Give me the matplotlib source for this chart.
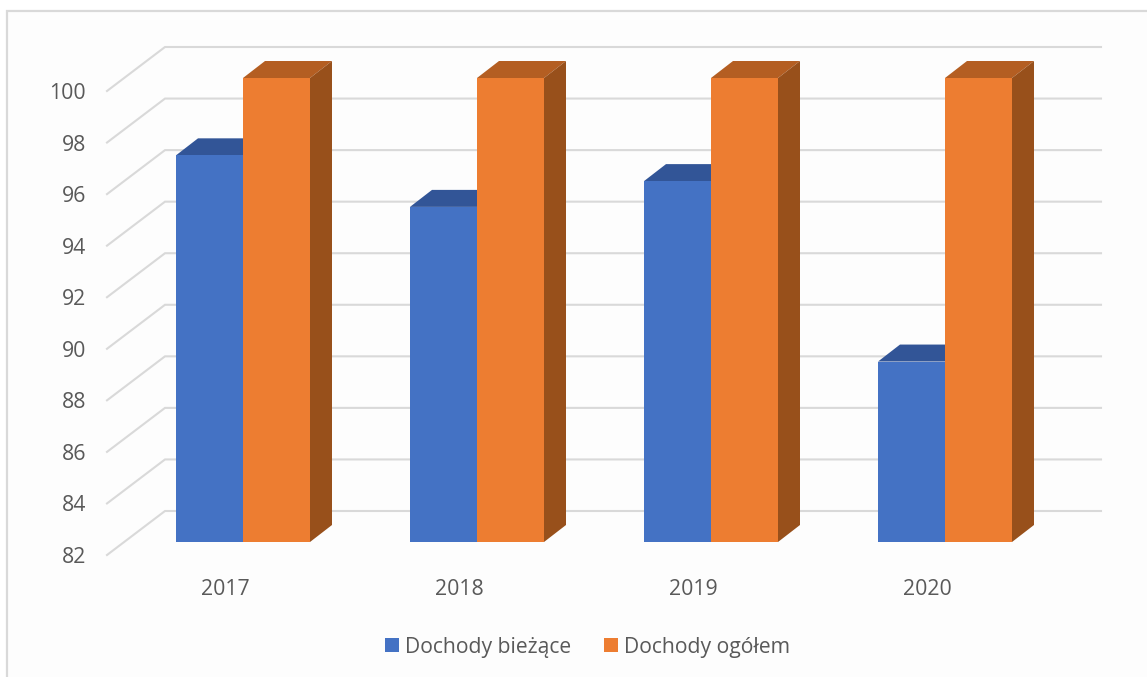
#!/usr/bin/env python3
"""Pseudo-3D column chart of Dochody biezace vs ogolem."""

import matplotlib
matplotlib.use("Agg")
import matplotlib.pyplot as plt
from matplotlib.patches import Patch, Polygon, Rectangle

YEARS = ["2017", "2018", "2019", "2020"]
TICKS = [82, 84, 86, 88, 90, 92, 94, 96, 98, 100]
CURRENT = [97, 95, 96, 89]
TOTAL = [100, 100, 100, 100]

W, H = 1147, 677
BAR_W = 67 / 234
GRID = "#d9d9d9"
TEXT = "#595959"

plt.rcParams["font.family"] = ["Open Sans", "DejaVu Sans"]

fig = plt.figure(figsize=(W / 100, H / 100), dpi=100, facecolor="white")
fig.add_artist(Rectangle((6.5 / W, -0.05), 1.1, 1 - 11 / H + 0.05, transform=fig.transFigure,
                         facecolor="#fdfdfd", edgecolor=GRID, linewidth=1.6, zorder=-1))

# axes cover the plane of the bar fronts, depth is faked with offsets
ax = fig.add_axes([126 / W, 1 - 542 / H, 936 / W, 464 / H])
ax.set_xlim(-0.5, 3.5)
ax.set_ylim(82, 100)
ax.axis("off")

px_x = 1 / 234
px_y = 18 / 464
bar_dx, bar_dy = 22 * px_x, 17 * px_y
back_dx, back_dy = 39 * px_x, 31 * px_y
front_dx, front_dy = -19 * px_x, -13 * px_y
right_x = 3.5


def draw_bar(x0, value, front, top, side):
    x1 = x0 + BAR_W
    ax.add_patch(Polygon([(x0, value), (x1, value), (x1 + bar_dx, value + bar_dy), (x0 + bar_dx, value + bar_dy)],
                         facecolor=top, edgecolor="none", clip_on=False, zorder=3))
    ax.add_patch(Polygon([(x1, 82), (x1 + bar_dx, 82 + bar_dy), (x1 + bar_dx, value + bar_dy), (x1, value)],
                         facecolor=side, edgecolor="none", clip_on=False, zorder=3))
    ax.add_patch(Rectangle((x0, 82), BAR_W, value - 82, facecolor=front, edgecolor="none",
                           clip_on=False, zorder=4))


for t in TICKS:
    ax.plot([front_dx - 0.5, back_dx - 0.5, right_x + back_dx], [t + front_dy, t + back_dy, t + back_dy],
            color=GRID, lw=1.5, clip_on=False, zorder=1, solid_joinstyle="miter")
    ax.text(-0.5 - 40 * px_x, t + front_dy, str(t), ha="right", va="center_baseline",
            fontsize=15.3, color=TEXT)

for i, year in enumerate(YEARS):
    draw_bar(i - BAR_W, CURRENT[i], "#4472c4", "#325597", "#2b4d8a")
    draw_bar(i, TOTAL[i], "#ed7d31", "#b45e22", "#98501b")
    ax.text(i - 17.5 * px_x, 82 - 45 * px_y, year, ha="center", va="center_baseline",
            fontsize=15.3, color=TEXT)

handles = [Patch(facecolor="#4472c4", label="Dochody bieżące"),
           Patch(facecolor="#ed7d31", label="Dochody ogółem")]
fig.legend(handles=handles, loc="center", bbox_to_anchor=(587.5 / W, 1 - 647 / H), ncol=2, frameon=False,
           fontsize=15.2, labelcolor=TEXT, handlelength=0.67, handleheight=0.67,
           handletextpad=0.3, columnspacing=1.55)

fig.savefig("out.png", dpi=100)
